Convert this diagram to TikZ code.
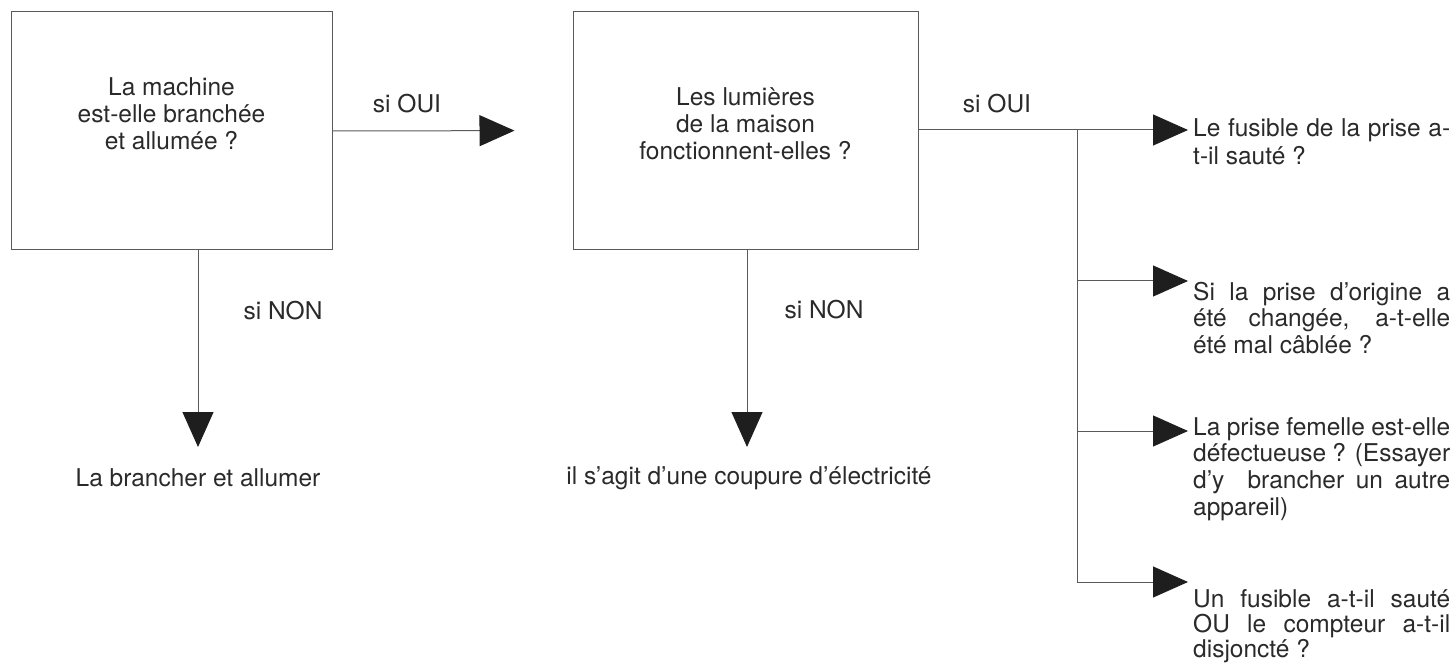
\documentclass[tikz,border=0pt]{standalone}
\usepackage{fontspec}
\setmainfont{TeX Gyre Heros}
\usetikzlibrary{arrows.meta}
\definecolor{txt}{HTML}{2A2A2A}
\definecolor{ln}{HTML}{5A5A5A}
\definecolor{tip}{HTML}{1E1E1E}
\newlength{\colw}
\setlength{\colw}{257pt}
\newcommand{\jl}[1]{\makebox[\colw][s]{#1}\\}
\tikzset{
  lbl/.style={font=\fontsize{24.5}{27}\selectfont, text=txt, inner sep=0pt},
  box/.style={draw=ln, line width=1pt, minimum width=#1, minimum height=238pt, inner sep=0pt},
  conn/.style={draw=ln, line width=1pt},
  arr/.style={conn, -{Triangle[length=35pt,width=31pt,color=tip]}},
}
\begin{document}
\begin{tikzpicture}[x=1pt,y=-1pt]
\useasboundingbox (0,0) rectangle (1453,668);
% boxes
\node[box=321pt] (b1) at (171.5,131) {};
\node[box=345pt] (b2) at (745.5,130.5) {};
\node[lbl, anchor=base] (t1) at (171.5,96) {\parbox[t]{300pt}{\centering La machine\\est-elle branchée\\et allumée ?}};
\node[lbl, anchor=base] (t2) at (745.5,106) {\parbox[t]{330pt}{\centering Les lumières\\de la maison\\fonctionnent-elles ?}};
% labels
\node[lbl, anchor=base] (o1) at (407,113) {si OUI};
\node[lbl, anchor=base] (o2) at (997,113) {si OUI};
\node[lbl, anchor=base] (n1) at (283,319) {si NON};
\node[lbl, anchor=base] (n2) at (824,318) {si NON};
% outcomes
\node[lbl, anchor=base] (a1) at (198,486) {La brancher et allumer};
\node[lbl, anchor=base] (a2) at (749,484) {il s’agit d’une coupure d’électricité};
% right column
\node[lbl, anchor=base west] (r1) at (1193,137) {\parbox[t]{\colw}{\baselineskip=28pt \jl{Le fusible de la prise a-}t-il sauté ?}};
\node[lbl, anchor=base west] (r2) at (1193,300) {\parbox[t]{\colw}{\baselineskip=26.7pt \jl{Si la prise d’origine a}\jl{été changée, a-t-elle}été mal câblée ?}};
\node[lbl, anchor=base west] (r3) at (1193,435) {\parbox[t]{\colw}{\baselineskip=26.7pt \jl{La prise femelle est-elle}\jl{défectueuse ? (Essayer}\jl{d’y\ \ brancher un autre}appareil)}};
\node[lbl, anchor=base west] (r4) at (1193,607) {\parbox[t]{\colw}{\baselineskip=25pt \jl{Un fusible a-t-il sauté}\jl{OU le compteur a-t-il}disjoncté ?}};
% coordinates
\coordinate (d1) at (198,447);
\coordinate (d2) at (747,447);
\coordinate (j1) at (1077,130);
\coordinate (j2) at (1077,281);
\coordinate (j3) at (1077,431);
\coordinate (j4) at (1077,582);
\coordinate (e1) at (1188,130);
\coordinate (e2) at (1188,281);
\coordinate (e3) at (1188,431);
\coordinate (e4) at (1188,582);
% connectors
\draw[arr, shorten >=58pt] (b1.east) -- (b2.west);
\draw[arr] (b1.south -| d1) -- (d1);
\draw[arr] (b2.south -| d2) -- (d2);
\draw[conn] (b2.east |- j1) -- (j1);
\draw[conn] (j1) -- (j4);
\draw[arr] (j1) -- (e1);
\draw[arr] (j2) -- (e2);
\draw[arr] (j3) -- (e3);
\draw[arr] (j4) -- (e4);
\end{tikzpicture}
\end{document}
